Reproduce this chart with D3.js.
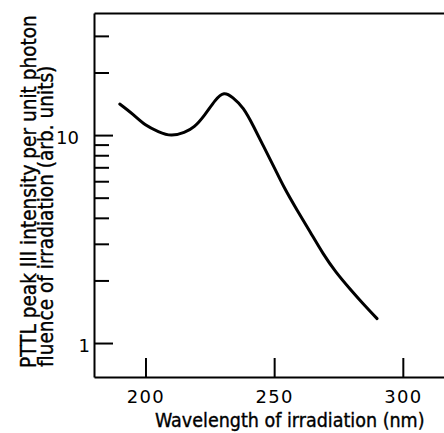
<!DOCTYPE html>
<html>
<head>
<meta charset="utf-8">
<script src="https://cdn.jsdelivr.net/npm/d3@7"></script>
<style>
  body { margin: 0; background: #fff; }
  svg { display: block; }
  text { font-family: "DejaVu Sans", sans-serif; fill: #000; }
  .title { font-family: "DejaVu Sans Condensed", "DejaVu Sans", sans-serif; font-stretch: condensed; stroke: #000; stroke-width: 0.35px; }
</style>
</head>
<body>
<script>
// wavelength (nm) and PTTL intensity
let wavelength = [190, 195, 200, 205, 210, 215, 219, 223, 227, 230.5, 234, 238, 242, 246, 250, 254, 259, 264, 269, 274, 279.5, 284.5, 290];
let intensity = [14.1, 12.6, 11.2, 10.4, 10.0, 10.3, 11.0, 12.5, 14.6, 15.8, 15.1, 13.4, 11.0, 8.77, 7.0, 5.58, 4.34, 3.42, 2.70, 2.20, 1.82, 1.55, 1.31];

let xTicks = [200, 250, 300];
let yMajor = [1, 10];
let yMinor = [2, 3, 4, 5, 6, 7, 8, 9, 20, 30];

let width = 444,
    height = 433;

let svg = d3.select("body").append("svg")
    .attr("width", width).attr("height", height);

// frame: left 94, right edge 444, top 13, bottom 377
let x = d3.scaleLinear().domain([180, 316]).range([94, 444]);
let y = d3.scaleLog().domain([0.6865, 38.65]).range([377, 13]);

// minor ticks on left
svg.append("g").attr("transform", "translate(94,0)")
    .call(d3.axisLeft(y).tickValues(yMinor).tickSizeInner(-15).tickSizeOuter(0).tickFormat(""))
    .call(g => g.select(".domain").remove());

// major ticks + labels on left
let gy = svg.append("g").attr("transform", "translate(94,0)")
    .call(d3.axisLeft(y).tickValues(yMajor).tickSizeInner(-19).tickSizeOuter(0).tickFormat(d3.format("d")));
gy.selectAll(".tick text")
    .attr("x", d => d >= 10 ? -15 : -4)
    .attr("dy", "0.45em")
    .style("font-size", "18px");

// bottom axis
let gx = svg.append("g").attr("transform", "translate(0,377)")
    .call(d3.axisBottom(x).tickValues(xTicks).tickSizeInner(-19).tickSizeOuter(0));
gx.selectAll(".tick text")
    .attr("y", 9)
    .attr("dy", "0.95em")
    .style("font-size", "18px")
    .style("letter-spacing", "1.3px");

// top frame line
svg.append("g").attr("transform", "translate(0,13)")
    .call(d3.axisTop(x).tickValues([]).tickSizeOuter(0));

svg.selectAll(".domain, .tick line")
    .attr("stroke", "#000").attr("stroke-width", 2);

// the curve
let line = d3.line()
    .x((d, i) => x(wavelength[i]))
    .y(d => y(d))
    .curve(d3.curveNatural);

svg.append("path")
    .attr("d", line(intensity))
    .attr("fill", "none")
    .attr("stroke", "#000")
    .attr("stroke-width", 3)
    .attr("stroke-linecap", "round");

// axis titles
svg.append("text").attr("class", "title")
    .attr("x", 155).attr("y", 427)
    .style("font-size", "19.5px")
    .text("Wavelength of irradiation (nm)");

svg.append("text").attr("class", "title")
    .attr("transform", "translate(36,368) rotate(-90)")
    .style("font-size", "20.6px")
    .text("PTTL peak III intensity per unit photon");

svg.append("text").attr("class", "title")
    .attr("transform", "translate(53,367) rotate(-90)")
    .style("font-size", "20.6px")
    .text("fluence of irradiation (arb. units)");
</script>
</body>
</html>
